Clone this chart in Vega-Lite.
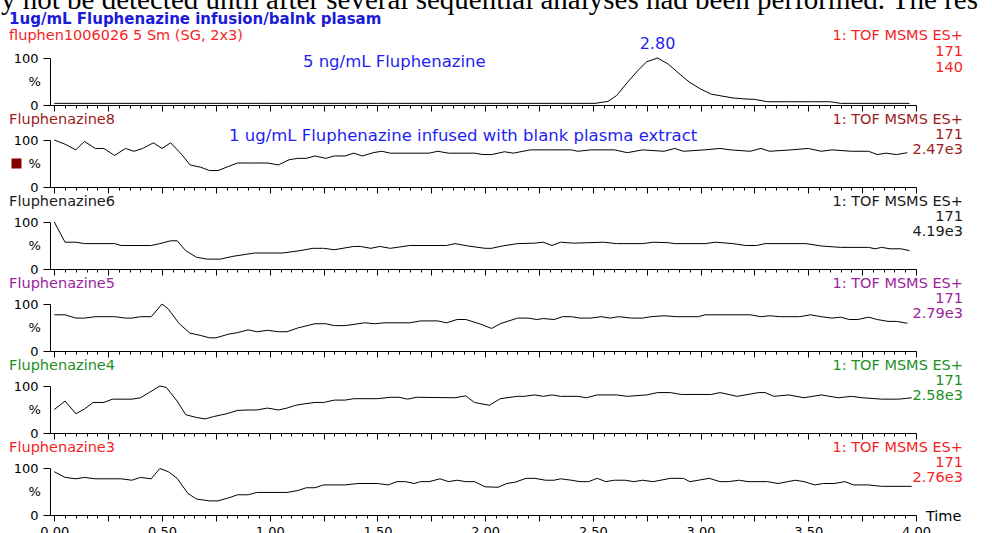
{
"$schema":"https://vega.github.io/schema/vega-lite/v6.json",
"padding":{"left":0,"top":-14,"right":0,"bottom":0},
"spacing":35,
"bounds":"flush",
"config":{"view":{"stroke":null},"font":"DejaVu Sans","text":{"font":"DejaVu Sans","fontSize":14.5,"baseline":"middle"},"line":{"color":"#000","strokeWidth":1}},
"datasets":{
"p1":[{"t":0,"v":3.5},{"t":0.5,"v":3.5},{"t":1,"v":3.5},{"t":1.5,"v":3.5},{"t":2,"v":3.5},{"t":2.51,"v":3.5},{"t":2.57,"v":7.7},{"t":2.61,"v":20},{"t":2.66,"v":48},{"t":2.71,"v":74},{"t":2.75,"v":92},{"t":2.8,"v":100},{"t":2.85,"v":87},{"t":2.9,"v":67},{"t":2.95,"v":48},{"t":3.0,"v":34},{"t":3.05,"v":23},{"t":3.1,"v":19},{"t":3.15,"v":15},{"t":3.2,"v":13},{"t":3.25,"v":12},{"t":3.31,"v":7},{"t":3.4,"v":7},{"t":3.5,"v":7},{"t":3.6,"v":7},{"t":3.65,"v":3.5},{"t":3.8,"v":3.5},{"t":3.97,"v":3.5}],
"p2":[{"t":0,"v":100},{"t":0.05,"v":91},{"t":0.1,"v":79},{"t":0.14,"v":97},{"t":0.19,"v":82},{"t":0.23,"v":82},{"t":0.28,"v":67},{"t":0.33,"v":82},{"t":0.37,"v":76},{"t":0.41,"v":82},{"t":0.46,"v":94},{"t":0.5,"v":82},{"t":0.54,"v":94},{"t":0.59,"v":70},{"t":0.63,"v":47},{"t":0.68,"v":42},{"t":0.72,"v":35},{"t":0.76,"v":35},{"t":0.81,"v":44},{"t":0.85,"v":51},{"t":0.9,"v":51},{"t":0.99,"v":51},{"t":1.04,"v":47},{"t":1.09,"v":58},{"t":1.13,"v":61},{"t":1.17,"v":61},{"t":1.21,"v":66},{"t":1.26,"v":61},{"t":1.3,"v":66},{"t":1.35,"v":66},{"t":1.39,"v":72},{"t":1.43,"v":66},{"t":1.48,"v":73},{"t":1.52,"v":76},{"t":1.56,"v":72},{"t":1.65,"v":72},{"t":1.74,"v":72},{"t":1.78,"v":76},{"t":1.83,"v":72},{"t":1.95,"v":72},{"t":1.99,"v":69},{"t":2.03,"v":69},{"t":2.09,"v":75},{"t":2.13,"v":72},{"t":2.21,"v":79},{"t":2.3,"v":79},{"t":2.4,"v":79},{"t":2.43,"v":76},{"t":2.49,"v":79},{"t":2.6,"v":79},{"t":2.66,"v":73},{"t":2.73,"v":79},{"t":2.83,"v":76},{"t":2.88,"v":82},{"t":2.92,"v":76},{"t":3.02,"v":79},{"t":3.09,"v":82},{"t":3.14,"v":79},{"t":3.23,"v":76},{"t":3.28,"v":82},{"t":3.32,"v":76},{"t":3.42,"v":79},{"t":3.5,"v":82},{"t":3.56,"v":76},{"t":3.61,"v":79},{"t":3.7,"v":76},{"t":3.78,"v":76},{"t":3.82,"v":69},{"t":3.86,"v":72},{"t":3.91,"v":69},{"t":3.96,"v":73}],
"p3":[{"t":0,"v":100},{"t":0.05,"v":57},{"t":0.1,"v":57},{"t":0.14,"v":54},{"t":0.28,"v":54},{"t":0.31,"v":50},{"t":0.45,"v":50},{"t":0.49,"v":54},{"t":0.54,"v":60},{"t":0.57,"v":60},{"t":0.61,"v":39},{"t":0.66,"v":25},{"t":0.71,"v":21},{"t":0.77,"v":21},{"t":0.83,"v":27},{"t":0.93,"v":34},{"t":1.06,"v":34},{"t":1.14,"v":39},{"t":1.2,"v":44},{"t":1.25,"v":44},{"t":1.3,"v":41},{"t":1.39,"v":48},{"t":1.42,"v":48},{"t":1.47,"v":44},{"t":1.51,"v":48},{"t":1.56,"v":44},{"t":1.65,"v":50},{"t":1.82,"v":50},{"t":1.86,"v":54},{"t":1.92,"v":49},{"t":2.0,"v":44},{"t":2.03,"v":44},{"t":2.08,"v":49},{"t":2.15,"v":54},{"t":2.23,"v":55},{"t":2.27,"v":57},{"t":2.31,"v":50},{"t":2.35,"v":57},{"t":2.41,"v":55},{"t":2.55,"v":57},{"t":2.61,"v":54},{"t":2.73,"v":54},{"t":2.78,"v":57},{"t":2.85,"v":56},{"t":2.88,"v":54},{"t":3.02,"v":54},{"t":3.07,"v":57},{"t":3.15,"v":54},{"t":3.21,"v":50},{"t":3.26,"v":50},{"t":3.3,"v":54},{"t":3.49,"v":54},{"t":3.56,"v":49},{"t":3.65,"v":46},{"t":3.78,"v":46},{"t":3.81,"v":43},{"t":3.84,"v":46},{"t":3.88,"v":43},{"t":3.93,"v":43},{"t":3.97,"v":39}],
"p4":[{"t":0,"v":77},{"t":0.05,"v":77},{"t":0.1,"v":70},{"t":0.14,"v":70},{"t":0.19,"v":73},{"t":0.28,"v":73},{"t":0.33,"v":70},{"t":0.36,"v":70},{"t":0.4,"v":73},{"t":0.45,"v":73},{"t":0.5,"v":100},{"t":0.53,"v":89},{"t":0.58,"v":58},{"t":0.63,"v":38},{"t":0.68,"v":33},{"t":0.72,"v":28},{"t":0.75,"v":28},{"t":0.81,"v":36},{"t":0.85,"v":39},{"t":0.9,"v":45},{"t":0.94,"v":41},{"t":0.99,"v":44},{"t":1.04,"v":41},{"t":1.08,"v":41},{"t":1.13,"v":49},{"t":1.21,"v":58},{"t":1.26,"v":58},{"t":1.3,"v":54},{"t":1.35,"v":54},{"t":1.44,"v":60},{"t":1.49,"v":58},{"t":1.53,"v":60},{"t":1.65,"v":60},{"t":1.7,"v":64},{"t":1.78,"v":64},{"t":1.82,"v":60},{"t":1.87,"v":67},{"t":1.91,"v":67},{"t":1.98,"v":57},{"t":2.03,"v":48},{"t":2.07,"v":58},{"t":2.15,"v":70},{"t":2.2,"v":70},{"t":2.24,"v":67},{"t":2.27,"v":69},{"t":2.32,"v":67},{"t":2.36,"v":73},{"t":2.4,"v":73},{"t":2.44,"v":70},{"t":2.49,"v":70},{"t":2.54,"v":73},{"t":2.58,"v":70},{"t":2.62,"v":73},{"t":2.68,"v":70},{"t":2.73,"v":70},{"t":2.77,"v":73},{"t":2.83,"v":75},{"t":2.89,"v":73},{"t":2.99,"v":73},{"t":3.02,"v":77},{"t":3.23,"v":77},{"t":3.28,"v":73},{"t":3.32,"v":75},{"t":3.37,"v":73},{"t":3.46,"v":73},{"t":3.51,"v":77},{"t":3.56,"v":73},{"t":3.61,"v":70},{"t":3.65,"v":72},{"t":3.69,"v":67},{"t":3.73,"v":67},{"t":3.78,"v":72},{"t":3.82,"v":67},{"t":3.87,"v":63},{"t":3.91,"v":63},{"t":3.96,"v":59}],
"p5":[{"t":0,"v":50},{"t":0.05,"v":68},{"t":0.1,"v":41},{"t":0.14,"v":51},{"t":0.18,"v":65},{"t":0.23,"v":65},{"t":0.27,"v":72},{"t":0.36,"v":72},{"t":0.4,"v":75},{"t":0.44,"v":86},{"t":0.49,"v":100},{"t":0.52,"v":97},{"t":0.57,"v":68},{"t":0.61,"v":39},{"t":0.66,"v":33},{"t":0.7,"v":30},{"t":0.74,"v":35},{"t":0.8,"v":41},{"t":0.85,"v":48},{"t":0.9,"v":49},{"t":0.94,"v":49},{"t":0.99,"v":53},{"t":1.04,"v":49},{"t":1.08,"v":53},{"t":1.12,"v":59},{"t":1.16,"v":62},{"t":1.21,"v":65},{"t":1.25,"v":65},{"t":1.3,"v":70},{"t":1.35,"v":70},{"t":1.39,"v":73},{"t":1.5,"v":73},{"t":1.56,"v":76},{"t":1.6,"v":76},{"t":1.64,"v":72},{"t":1.68,"v":76},{"t":1.86,"v":75},{"t":1.91,"v":79},{"t":1.95,"v":65},{"t":2.02,"v":59},{"t":2.07,"v":73},{"t":2.15,"v":78},{"t":2.18,"v":78},{"t":2.23,"v":81},{"t":2.27,"v":78},{"t":2.31,"v":81},{"t":2.35,"v":78},{"t":2.43,"v":78},{"t":2.47,"v":75},{"t":2.52,"v":81},{"t":2.61,"v":81},{"t":2.66,"v":78},{"t":2.75,"v":81},{"t":2.8,"v":86},{"t":2.86,"v":86},{"t":2.91,"v":82},{"t":3.05,"v":82},{"t":3.09,"v":86},{"t":3.17,"v":78},{"t":3.27,"v":86},{"t":3.3,"v":86},{"t":3.34,"v":78},{"t":3.41,"v":81},{"t":3.48,"v":75},{"t":3.56,"v":81},{"t":3.64,"v":75},{"t":3.7,"v":78},{"t":3.75,"v":75},{"t":3.84,"v":72},{"t":3.92,"v":72},{"t":3.98,"v":75}],
"p6":[{"t":0,"v":92},{"t":0.05,"v":80},{"t":0.1,"v":77},{"t":0.14,"v":80},{"t":0.19,"v":77},{"t":0.31,"v":77},{"t":0.36,"v":74},{"t":0.4,"v":80},{"t":0.45,"v":77},{"t":0.49,"v":99},{"t":0.53,"v":92},{"t":0.57,"v":78},{"t":0.62,"v":46},{"t":0.66,"v":34},{"t":0.72,"v":30},{"t":0.76,"v":30},{"t":0.82,"v":38},{"t":0.85,"v":43},{"t":0.9,"v":43},{"t":0.94,"v":48},{"t":1.08,"v":48},{"t":1.13,"v":52},{"t":1.17,"v":58},{"t":1.21,"v":58},{"t":1.25,"v":64},{"t":1.35,"v":64},{"t":1.41,"v":67},{"t":1.5,"v":67},{"t":1.55,"v":64},{"t":1.59,"v":71},{"t":1.63,"v":71},{"t":1.67,"v":67},{"t":1.7,"v":71},{"t":1.74,"v":71},{"t":1.79,"v":77},{"t":1.83,"v":71},{"t":1.87,"v":74},{"t":1.91,"v":71},{"t":1.95,"v":71},{"t":2.0,"v":60},{"t":2.06,"v":59},{"t":2.1,"v":67},{"t":2.14,"v":70},{"t":2.19,"v":78},{"t":2.23,"v":78},{"t":2.28,"v":74},{"t":2.32,"v":74},{"t":2.35,"v":77},{"t":2.4,"v":74},{"t":2.44,"v":71},{"t":2.48,"v":71},{"t":2.52,"v":78},{"t":2.56,"v":71},{"t":2.6,"v":74},{"t":2.65,"v":74},{"t":2.69,"v":71},{"t":2.73,"v":74},{"t":2.78,"v":71},{"t":2.86,"v":78},{"t":2.92,"v":78},{"t":2.95,"v":71},{"t":2.99,"v":74},{"t":3.04,"v":78},{"t":3.09,"v":71},{"t":3.13,"v":71},{"t":3.18,"v":74},{"t":3.22,"v":71},{"t":3.31,"v":71},{"t":3.36,"v":67},{"t":3.44,"v":74},{"t":3.48,"v":71},{"t":3.53,"v":64},{"t":3.57,"v":67},{"t":3.62,"v":67},{"t":3.67,"v":71},{"t":3.71,"v":64},{"t":3.78,"v":64},{"t":3.84,"v":61},{"t":3.98,"v":61}]
},
"vconcat":[
{"width":866,"height":47,"layer":[
 {"data":{"name":"p1"},"mark":{"type":"line","color":"#000","strokeWidth":1},"encoding":{
  "x":{"field":"t","type":"quantitative","scale":{"domain":[-0.02,4],"nice":false,"zero":false},"axis":{"title":null,"tickCount":80,"labels":false,"grid":false,"domainColor":"#000","tickColor":"#000","tickSize":{"condition":{"test":"abs(datum.value*4-round(datum.value*4))<0.001","value":6},"value":3}}},
  "y":{"field":"v","type":"quantitative","scale":{"domain":[0,100],"nice":false},"axis":{"title":null,"values":[0,10,20,30,40,50,60,70,80,90,100],"labelExpr":"datum.value==100?'100':datum.value==0?'0':''","tickSize":{"condition":{"test":"datum.value%50==0","value":7},"value":4},"labelPadding":5,"labelFlush":false,"labelOverlap":false,"labelBound":false,"grid":false,"domainColor":"#000","tickColor":"#000","labelColor":"#000","labelFont":"DejaVu Sans","labelFontSize":13}}}},
 {"data":{"values":[{}]},"mark":{"type":"text","text":"%","align":"right","fontSize":13,"color":"#000"},"encoding":{"x":{"datum":-0.062,"type":"quantitative"},"y":{"datum":50,"type":"quantitative"}}},
 {"data":{"values":[{}]},"mark":{"type":"text","text":"y not be detected until after several sequential analyses had been performed.  The res","align":"left","baseline":"alphabetic","font":"Liberation Serif","fontSize":29,"color":"#000"},"encoding":{"x":{"datum":-0.2475,"type":"quantitative"},"y":{"datum":204,"type":"quantitative"}}},
 {"data":{"values":[{}]},"mark":{"type":"text","text":"1ug/mL Fluphenazine infusion/balnk plasam","align":"left","fontWeight":"bold","fontSize":15,"color":"#1a1ad8"},"encoding":{"x":{"datum":-0.21,"type":"quantitative"},"y":{"datum":183,"type":"quantitative"}}},
 {"data":{"values":[{}]},"mark":{"type":"text","text":"fluphen1006026 5 Sm (SG, 2x3)","align":"left","color":"#f51f1f"},"encoding":{"x":{"datum":-0.21,"type":"quantitative"},"y":{"datum":147,"type":"quantitative"}}},
 {"data":{"values":[{}]},"mark":{"type":"text","text":"1: TOF MSMS ES+","align":"right","color":"#f51f1f"},"encoding":{"x":{"datum":4.218,"type":"quantitative"},"y":{"datum":147,"type":"quantitative"}}},
 {"data":{"values":[{}]},"mark":{"type":"text","text":"171","align":"right","color":"#f51f1f"},"encoding":{"x":{"datum":4.218,"type":"quantitative"},"y":{"datum":113,"type":"quantitative"}}},
 {"data":{"values":[{}]},"mark":{"type":"text","text":"140","align":"right","color":"#f51f1f"},"encoding":{"x":{"datum":4.218,"type":"quantitative"},"y":{"datum":79,"type":"quantitative"}}},
 {"data":{"values":[{}]},"mark":{"type":"text","text":"2.80","align":"center","fontSize":16,"color":"#1f1ff0"},"encoding":{"x":{"datum":2.8,"type":"quantitative"},"y":{"datum":130,"type":"quantitative"}}},
 {"data":{"values":[{}]},"mark":{"type":"text","text":"5 ng/mL Fluphenazine","align":"left","fontSize":16.5,"color":"#1f1ff0"},"encoding":{"x":{"datum":1.154,"type":"quantitative"},"y":{"datum":91.5,"type":"quantitative"}}}
]},
{"width":866,"height":47,"layer":[
 {"data":{"name":"p2"},"mark":{"type":"line","color":"#000","strokeWidth":1},"encoding":{
  "x":{"field":"t","type":"quantitative","scale":{"domain":[-0.02,4],"nice":false,"zero":false},"axis":{"title":null,"tickCount":80,"labels":false,"grid":false,"domainColor":"#000","tickColor":"#000","tickSize":{"condition":{"test":"abs(datum.value*4-round(datum.value*4))<0.001","value":6},"value":3}}},
  "y":{"field":"v","type":"quantitative","scale":{"domain":[0,100],"nice":false},"axis":{"title":null,"values":[0,10,20,30,40,50,60,70,80,90,100],"labelExpr":"datum.value==100?'100':datum.value==0?'0':''","tickSize":{"condition":{"test":"datum.value%50==0","value":7},"value":4},"labelPadding":5,"labelFlush":false,"labelOverlap":false,"labelBound":false,"grid":false,"domainColor":"#000","tickColor":"#000","labelColor":"#000","labelFont":"DejaVu Sans","labelFontSize":13}}}},
 {"data":{"values":[{}]},"mark":{"type":"text","text":"%","align":"right","fontSize":13,"color":"#000"},"encoding":{"x":{"datum":-0.062,"type":"quantitative"},"y":{"datum":50,"type":"quantitative"}}},
 {"data":{"values":[{}]},"mark":{"type":"text","text":"Fluphenazine8","align":"left","color":"#9e1b1b"},"encoding":{"x":{"datum":-0.21,"type":"quantitative"},"y":{"datum":142,"type":"quantitative"}}},
 {"data":{"values":[{}]},"mark":{"type":"text","text":"1: TOF MSMS ES+","align":"right","color":"#9e1b1b"},"encoding":{"x":{"datum":4.218,"type":"quantitative"},"y":{"datum":142,"type":"quantitative"}}},
 {"data":{"values":[{}]},"mark":{"type":"text","text":"171","align":"right","color":"#9e1b1b"},"encoding":{"x":{"datum":4.218,"type":"quantitative"},"y":{"datum":110.5,"type":"quantitative"}}},
 {"data":{"values":[{}]},"mark":{"type":"text","text":"2.47e3","align":"right","color":"#9e1b1b"},"encoding":{"x":{"datum":4.218,"type":"quantitative"},"y":{"datum":78,"type":"quantitative"}}},
 {"data":{"values":[{}]},"mark":{"type":"text","text":"1 ug/mL Fluphenazine infused with blank plasma extract","align":"left","fontSize":16.5,"color":"#1f1ff0"},"encoding":{"x":{"datum":0.811,"type":"quantitative"},"y":{"datum":108,"type":"quantitative"}}},
 {"data":{"values":[{}]},"mark":{"type":"point","shape":"square","filled":true,"opacity":1,"size":100,"color":"#800000"},"encoding":{"x":{"datum":-0.1755,"type":"quantitative"},"y":{"datum":50,"type":"quantitative"}}}
]},
{"width":866,"height":47,"layer":[
 {"data":{"name":"p3"},"mark":{"type":"line","color":"#000","strokeWidth":1},"encoding":{
  "x":{"field":"t","type":"quantitative","scale":{"domain":[-0.02,4],"nice":false,"zero":false},"axis":{"title":null,"tickCount":80,"labels":false,"grid":false,"domainColor":"#000","tickColor":"#000","tickSize":{"condition":{"test":"abs(datum.value*4-round(datum.value*4))<0.001","value":6},"value":3}}},
  "y":{"field":"v","type":"quantitative","scale":{"domain":[0,100],"nice":false},"axis":{"title":null,"values":[0,10,20,30,40,50,60,70,80,90,100],"labelExpr":"datum.value==100?'100':datum.value==0?'0':''","tickSize":{"condition":{"test":"datum.value%50==0","value":7},"value":4},"labelPadding":5,"labelFlush":false,"labelOverlap":false,"labelBound":false,"grid":false,"domainColor":"#000","tickColor":"#000","labelColor":"#000","labelFont":"DejaVu Sans","labelFontSize":13}}}},
 {"data":{"values":[{}]},"mark":{"type":"text","text":"%","align":"right","fontSize":13,"color":"#000"},"encoding":{"x":{"datum":-0.062,"type":"quantitative"},"y":{"datum":50,"type":"quantitative"}}},
 {"data":{"values":[{}]},"mark":{"type":"text","text":"Fluphenazine6","align":"left","color":"#1a1a1a"},"encoding":{"x":{"datum":-0.21,"type":"quantitative"},"y":{"datum":142,"type":"quantitative"}}},
 {"data":{"values":[{}]},"mark":{"type":"text","text":"1: TOF MSMS ES+","align":"right","color":"#1a1a1a"},"encoding":{"x":{"datum":4.218,"type":"quantitative"},"y":{"datum":142,"type":"quantitative"}}},
 {"data":{"values":[{}]},"mark":{"type":"text","text":"171","align":"right","color":"#1a1a1a"},"encoding":{"x":{"datum":4.218,"type":"quantitative"},"y":{"datum":110.5,"type":"quantitative"}}},
 {"data":{"values":[{}]},"mark":{"type":"text","text":"4.19e3","align":"right","color":"#1a1a1a"},"encoding":{"x":{"datum":4.218,"type":"quantitative"},"y":{"datum":78,"type":"quantitative"}}}
]},
{"width":866,"height":47,"layer":[
 {"data":{"name":"p4"},"mark":{"type":"line","color":"#000","strokeWidth":1},"encoding":{
  "x":{"field":"t","type":"quantitative","scale":{"domain":[-0.02,4],"nice":false,"zero":false},"axis":{"title":null,"tickCount":80,"labels":false,"grid":false,"domainColor":"#000","tickColor":"#000","tickSize":{"condition":{"test":"abs(datum.value*4-round(datum.value*4))<0.001","value":6},"value":3}}},
  "y":{"field":"v","type":"quantitative","scale":{"domain":[0,100],"nice":false},"axis":{"title":null,"values":[0,10,20,30,40,50,60,70,80,90,100],"labelExpr":"datum.value==100?'100':datum.value==0?'0':''","tickSize":{"condition":{"test":"datum.value%50==0","value":7},"value":4},"labelPadding":5,"labelFlush":false,"labelOverlap":false,"labelBound":false,"grid":false,"domainColor":"#000","tickColor":"#000","labelColor":"#000","labelFont":"DejaVu Sans","labelFontSize":13}}}},
 {"data":{"values":[{}]},"mark":{"type":"text","text":"%","align":"right","fontSize":13,"color":"#000"},"encoding":{"x":{"datum":-0.062,"type":"quantitative"},"y":{"datum":50,"type":"quantitative"}}},
 {"data":{"values":[{}]},"mark":{"type":"text","text":"Fluphenazine5","align":"left","color":"#9b239b"},"encoding":{"x":{"datum":-0.21,"type":"quantitative"},"y":{"datum":142,"type":"quantitative"}}},
 {"data":{"values":[{}]},"mark":{"type":"text","text":"1: TOF MSMS ES+","align":"right","color":"#9b239b"},"encoding":{"x":{"datum":4.218,"type":"quantitative"},"y":{"datum":142,"type":"quantitative"}}},
 {"data":{"values":[{}]},"mark":{"type":"text","text":"171","align":"right","color":"#9b239b"},"encoding":{"x":{"datum":4.218,"type":"quantitative"},"y":{"datum":110.5,"type":"quantitative"}}},
 {"data":{"values":[{}]},"mark":{"type":"text","text":"2.79e3","align":"right","color":"#9b239b"},"encoding":{"x":{"datum":4.218,"type":"quantitative"},"y":{"datum":78,"type":"quantitative"}}}
]},
{"width":866,"height":47,"layer":[
 {"data":{"name":"p5"},"mark":{"type":"line","color":"#000","strokeWidth":1},"encoding":{
  "x":{"field":"t","type":"quantitative","scale":{"domain":[-0.02,4],"nice":false,"zero":false},"axis":{"title":null,"tickCount":80,"labels":false,"grid":false,"domainColor":"#000","tickColor":"#000","tickSize":{"condition":{"test":"abs(datum.value*4-round(datum.value*4))<0.001","value":6},"value":3}}},
  "y":{"field":"v","type":"quantitative","scale":{"domain":[0,100],"nice":false},"axis":{"title":null,"values":[0,10,20,30,40,50,60,70,80,90,100],"labelExpr":"datum.value==100?'100':datum.value==0?'0':''","tickSize":{"condition":{"test":"datum.value%50==0","value":7},"value":4},"labelPadding":5,"labelFlush":false,"labelOverlap":false,"labelBound":false,"grid":false,"domainColor":"#000","tickColor":"#000","labelColor":"#000","labelFont":"DejaVu Sans","labelFontSize":13}}}},
 {"data":{"values":[{}]},"mark":{"type":"text","text":"%","align":"right","fontSize":13,"color":"#000"},"encoding":{"x":{"datum":-0.062,"type":"quantitative"},"y":{"datum":50,"type":"quantitative"}}},
 {"data":{"values":[{}]},"mark":{"type":"text","text":"Fluphenazine4","align":"left","color":"#1e8f1e"},"encoding":{"x":{"datum":-0.21,"type":"quantitative"},"y":{"datum":142,"type":"quantitative"}}},
 {"data":{"values":[{}]},"mark":{"type":"text","text":"1: TOF MSMS ES+","align":"right","color":"#1e8f1e"},"encoding":{"x":{"datum":4.218,"type":"quantitative"},"y":{"datum":142,"type":"quantitative"}}},
 {"data":{"values":[{}]},"mark":{"type":"text","text":"171","align":"right","color":"#1e8f1e"},"encoding":{"x":{"datum":4.218,"type":"quantitative"},"y":{"datum":110.5,"type":"quantitative"}}},
 {"data":{"values":[{}]},"mark":{"type":"text","text":"2.58e3","align":"right","color":"#1e8f1e"},"encoding":{"x":{"datum":4.218,"type":"quantitative"},"y":{"datum":78,"type":"quantitative"}}}
]},
{"width":866,"height":47,"layer":[
 {"data":{"name":"p6"},"mark":{"type":"line","color":"#000","strokeWidth":1},"encoding":{
  "x":{"field":"t","type":"quantitative","scale":{"domain":[-0.02,4],"nice":false,"zero":false},"axis":{"title":null,"tickCount":80,"labels":true,"labelExpr":"abs(datum.value*2-round(datum.value*2))<0.001?format(datum.value,'.2f'):''","labelFlush":false,"labelOverlap":false,"labelBound":false,"labelPadding":4,"labelFont":"DejaVu Sans","labelFontSize":13,"labelColor":"#000","grid":false,"domainColor":"#000","tickColor":"#000","tickSize":{"condition":{"test":"abs(datum.value*4-round(datum.value*4))<0.001","value":6},"value":3}}},
  "y":{"field":"v","type":"quantitative","scale":{"domain":[0,100],"nice":false},"axis":{"title":null,"values":[0,10,20,30,40,50,60,70,80,90,100],"labelExpr":"datum.value==100?'100':datum.value==0?'0':''","tickSize":{"condition":{"test":"datum.value%50==0","value":7},"value":4},"labelPadding":5,"labelFlush":false,"labelOverlap":false,"labelBound":false,"grid":false,"domainColor":"#000","tickColor":"#000","labelColor":"#000","labelFont":"DejaVu Sans","labelFontSize":13}}}},
 {"data":{"values":[{}]},"mark":{"type":"text","text":"%","align":"right","fontSize":13,"color":"#000"},"encoding":{"x":{"datum":-0.062,"type":"quantitative"},"y":{"datum":50,"type":"quantitative"}}},
 {"data":{"values":[{}]},"mark":{"type":"text","text":"Fluphenazine3","align":"left","color":"#f51f1f"},"encoding":{"x":{"datum":-0.21,"type":"quantitative"},"y":{"datum":142,"type":"quantitative"}}},
 {"data":{"values":[{}]},"mark":{"type":"text","text":"1: TOF MSMS ES+","align":"right","color":"#f51f1f"},"encoding":{"x":{"datum":4.218,"type":"quantitative"},"y":{"datum":142,"type":"quantitative"}}},
 {"data":{"values":[{}]},"mark":{"type":"text","text":"171","align":"right","color":"#f51f1f"},"encoding":{"x":{"datum":4.218,"type":"quantitative"},"y":{"datum":110.5,"type":"quantitative"}}},
 {"data":{"values":[{}]},"mark":{"type":"text","text":"2.76e3","align":"right","color":"#f51f1f"},"encoding":{"x":{"datum":4.218,"type":"quantitative"},"y":{"datum":78,"type":"quantitative"}}},
 {"data":{"values":[{}]},"mark":{"type":"text","text":"Time","align":"left","color":"#000"},"encoding":{"x":{"datum":4.046,"type":"quantitative"},"y":{"datum":-4,"type":"quantitative"}}}
]}
]
}
